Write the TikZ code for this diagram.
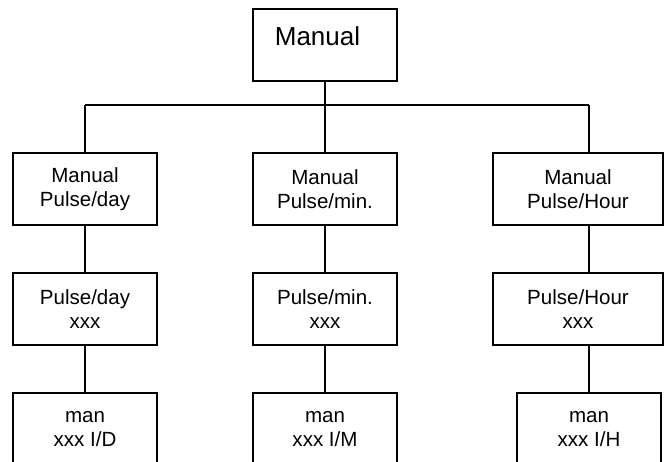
\documentclass[tikz,border=0pt]{standalone}
\usepackage{fontspec}
\setmainfont{Liberation Sans}
\begin{document}
\begin{tikzpicture}[x=0.75pt,y=-0.75pt,
  line width=1.1pt,
  box/.style={draw,rectangle,inner sep=0pt,align=center,
    minimum width=108pt,minimum height=54pt,
    font=\fontsize{15.4}{18}\selectfont},
  widebox/.style={box,minimum width=127.5pt},
  link/.style={draw,line width=1.1pt}]
\useasboundingbox (0,0) rectangle (666,461);
\clip (0,0) rectangle (666,461);

% root
\node[box] (top) at (325,45) {};
\node[font=\fontsize{19.5}{23}\selectfont] (toptext) at (317.5,36) {Manual};

% first row
\node[box] (a1) at (85,189) {Manual\\Pulse/day};
\node[box] (a2) at (325,189) {Manual\\Pulse/min.};
\node[widebox] (a3) at (578,189) {Manual\\Pulse/Hour};

% second row
\node[box] (b1) at (85,309) {Pulse/day\\xxx};
\node[box] (b2) at (325,309) {Pulse/min.\\xxx};
\node[widebox] (b3) at (578,309) {Pulse/Hour\\xxx};

% third row
\node[box] (c1) at (85,429) {man\\xxx I/D};
\node[box] (c2) at (325,429) {man\\xxx I/M};
\node[box] (c3) at (589,429) {man\\xxx I/H};

% bus
\coordinate (busL) at (85,105);
\coordinate (busM) at (325,105);
\coordinate (busR) at (589,105);
\draw[link] (top.south) -- (busM);
\draw[link] (busL) -- (busR);
\draw[link] (busL) -- (a1.north);
\draw[link] (busM) -- (a2.north);
\draw[link] (busR) -- (busR |- a3.north);

% column stems
\draw[link] (a1.south) -- (b1.north);
\draw[link] (b1.south) -- (c1.north);
\draw[link] (a2.south) -- (b2.north);
\draw[link] (b2.south) -- (c2.north);
\draw[link] (busR |- a3.south) -- (busR |- b3.north);
\draw[link] (busR |- b3.south) -- (c3.north);
\end{tikzpicture}
\end{document}
